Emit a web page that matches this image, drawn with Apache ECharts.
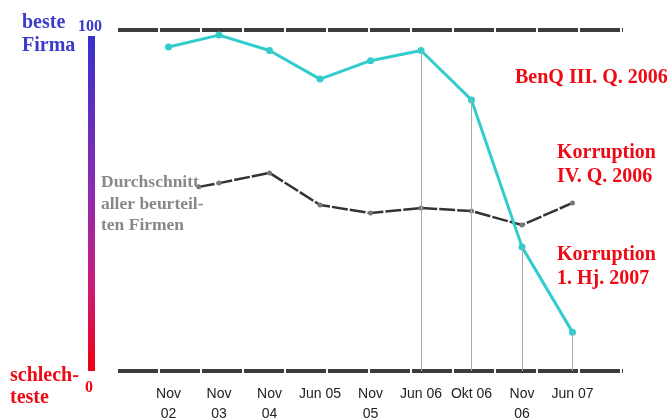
<!DOCTYPE html>
<html><head><meta charset="utf-8">
<script src="https://cdn.jsdelivr.net/npm/echarts@6/dist/echarts.min.js"></script>
<style>html,body{margin:0;padding:0;background:#fff}#c{width:670px;height:419px}</style>
</head><body><div id="c"></div>
<script>
// Category tick labels (positions 0..10, first and last empty)
const tickLabels = ['', 'Nov\n02', 'Nov\n03', 'Nov\n04', 'Jun 05', 'Nov\n05', 'Jun 06', 'Okt 06', 'Nov\n06', 'Jun 07', ''];
// BenQ rating (teal), index positions 1..9
const benqX = [1, 2, 3, 4, 5, 6, 7, 8, 9];
const benqY = [95, 98.5, 94, 85.6, 91, 94, 79.5, 36.4, 11.4];
// Average of all rated firms (grey)
const avgX = [1.6, 2, 3, 4, 5, 6, 7, 8, 9];
const avgY = [54, 55.1, 58.1, 48.7, 46.3, 47.8, 46.9, 42.8, 49.3];
// Drop lines at event points
const dropIdx = [5, 6, 7, 8];

const serif = '"Liberation Serif","Times New Roman",serif';
const blue = '#3b3bcc', red = '#ee0a14';

const chart = echarts.init(document.getElementById('c'), null, {renderer: 'canvas'});
chart.setOption({
  animation: false,
  grid: {left: 118, right: 47, top: 30, bottom: 48, containLabel: false, outerBoundsMode: 'none'},
  xAxis: {
    type: 'value', min: 0, max: 10, interval: 1,
    axisLine: {show: false}, axisTick: {show: false}, splitLine: {show: false},
    axisLabel: {
      formatter: v => tickLabels[v] || '',
      color: '#222', fontFamily: '"Liberation Sans",Arial,sans-serif', fontSize: 14,
      lineHeight: 20, margin: 13, showMinLabel: false, showMaxLabel: false
    }
  },
  yAxis: {
    type: 'value', min: 0, max: 100, interval: 100,
    axisLine: {show: false}, axisTick: {show: false}, axisLabel: {show: false},
    splitLine: {show: true, lineStyle: {color: '#3c3c3c', width: 4, type: [40, 2]}}
  },
  series: [
    {
      type: 'line', data: avgX.map((x, i) => [x, avgY[i]]),
      symbol: 'circle', symbolSize: 5, showSymbol: true,
      itemStyle: {color: '#777'},
      lineStyle: {color: '#333', width: 2.5, type: [16, 2]},
      z: 2
    },
    {
      type: 'line', data: benqX.map((x, i) => [x, benqY[i]]),
      symbol: 'circle', symbolSize: 7,
      itemStyle: {color: '#33cccc'},
      lineStyle: {color: '#33cccc', width: 3},
      z: 3,
      markLine: {
        silent: true, symbol: 'none', label: {show: false},
        lineStyle: {color: '#aaa', width: 1, type: 'solid'},
        data: dropIdx.map(i => [{coord: [benqX[i], benqY[i]]}, {coord: [benqX[i], 0]}])
      }
    }
  ],
  graphic: [
    {type: 'rect', left: 88, top: 36, shape: {width: 7, height: 335}, z: 10,
     style: {fill: new echarts.graphic.LinearGradient(0, 0, 0, 1, [
       {offset: 0, color: '#3830cc'}, {offset: 0.45, color: '#8a2cb4'},
       {offset: 0.75, color: '#cc1c78'}, {offset: 1, color: '#ee0010'}])}},
    {type: 'text', left: 78, top: 19, z: 10, style: {text: '100', fill: blue, font: 'bold 16px ' + serif}},
    {type: 'text', left: 85, top: 380, z: 10, style: {text: '0', fill: red, font: 'bold 16px ' + serif}},
    {type: 'text', left: 22, top: 11, z: 10, style: {text: 'beste\nFirma', fill: blue, font: 'bold 20px ' + serif, lineHeight: 23}},
    {type: 'text', left: 10, top: 365, z: 10, style: {text: 'schlech-\nteste', fill: red, font: 'bold 20px ' + serif, lineHeight: 22}},
    {type: 'text', left: 101, top: 172, z: 10, style: {text: 'Durchschnitt\naller beurteil-\nten Firmen', fill: '#888', font: 'bold 17.5px ' + serif, lineHeight: 21.5}},
    {type: 'text', left: 515, top: 66, z: 10, style: {text: 'BenQ III. Q. 2006', fill: red, font: 'bold 20px ' + serif, lineHeight: 24}},
    {type: 'text', left: 557, top: 141, z: 10, style: {text: 'Korruption\nIV. Q. 2006', fill: red, font: 'bold 20px ' + serif, lineHeight: 24}},
    {type: 'text', left: 557, top: 243, z: 10, style: {text: 'Korruption\n1. Hj. 2007', fill: red, font: 'bold 20px ' + serif, lineHeight: 24}}
  ]
});
</script></body></html>
